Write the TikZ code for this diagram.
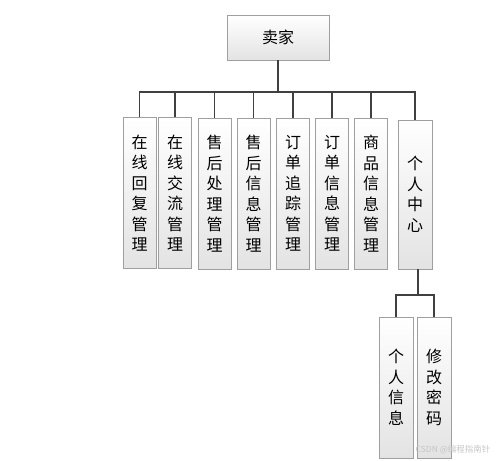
\documentclass[tikz,border=0pt]{standalone}
\usepackage{fontspec}
\setmainfont{Noto Sans CJK SC}
\usetikzlibrary{calc}

\begin{document}
\begin{tikzpicture}[x=1pt, y=-1pt]
%styles
\tikzstyle{box}=[rectangle, draw=gray!75, line width=0.8pt, top color=white, bottom color=gray!22, text=black, inner sep=0pt, align=center, font=\fontsize{16}{20.5}\selectfont]
\tikzstyle{rootbox}=[box, minimum width=102, minimum height=45]
\tikzstyle{colbox}=[box, minimum width=33, minimum height=151]
\tikzstyle{leafbox}=[box, minimum width=34, minimum height=141]
\tikzstyle{link}=[line width=1.3pt, color=black!75]

\useasboundingbox (0,0) rectangle (500,460);

%root
\node[rootbox] (seller) at (278,37.5) {卖家};

%modules
\node[colbox] (m1) at (139.5,193) {在\\线\\回\\复\\管\\理};
\node[colbox] (m2) at (175,193) {在\\线\\交\\流\\管\\理};
\node[colbox] (m3) at (214.5,193.5) {售\\后\\处\\理\\管\\理};
\node[colbox] (m4) at (253.5,193.5) {售\\后\\信\\息\\管\\理};
\node[colbox] (m5) at (293,193.5) {订\\单\\追\\踪\\管\\理};
\node[colbox] (m6) at (332,193.5) {订\\单\\信\\息\\管\\理};
\node[colbox] (m7) at (371,193.5) {商\\品\\信\\息\\管\\理};
\node[colbox, minimum width=34, minimum height=149] (m8) at (415,194.5) {个\\人\\中\\心};

%personal centre
\node[leafbox] (p1) at (396,387.5) {个\\人\\信\\息};
\node[leafbox] (p2) at (434,387.5) {修\\改\\密\\码};

%connectors
\coordinate (bus) at (0,92);
\coordinate (subbus) at (0,295);
\draw[link] (seller.south) -- (seller.south |- bus);
\foreach \i in {1,...,8}
  \draw[link] (m\i.north) |- (seller.south |- bus);
\draw[link] ($(m8.south)+(3,0)$) -- ($(m8.south |- subbus)+(3,0)$);
\draw[link] (p1.north) |- ($(m8.south |- subbus)+(3,0)$);
\draw[link] (p2.north) |- ($(m8.south |- subbus)+(3,0)$);

%watermark
\node[text=gray!45, font=\fontsize{8.5}{10}\selectfont] (mark) at (453,450) {CSDN @编程指南针};
\end{tikzpicture}
\end{document}
